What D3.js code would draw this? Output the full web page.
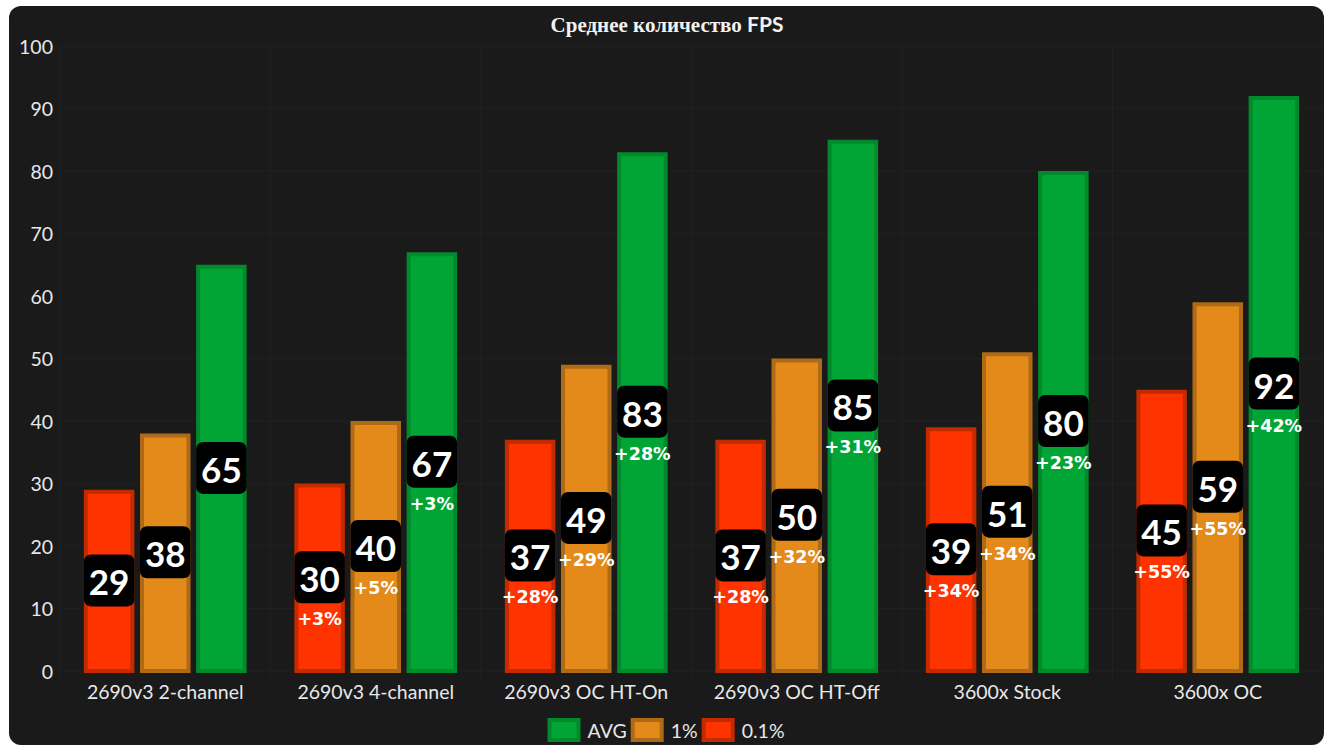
<!DOCTYPE html>
<html>
<head>
<meta charset="utf-8">
<script src="https://cdn.jsdelivr.net/npm/d3@7"></script>
<style>
  html, body { margin: 0; padding: 0; background: #ffffff; }
  svg { display: block; }
</style>
</head>
<body>
<div id="chart"></div>
<script>
// chart data
var categories = ["2690v3 2-channel", "2690v3 4-channel", "2690v3 OC HT-On", "2690v3 OC HT-Off", "3600x Stock", "3600x OC"];
var seriesNames = ["0.1%", "1%", "AVG"];
var low01 = [29, 30, 37, 37, 39, 45];
var low1 = [38, 40, 49, 50, 51, 59];
var avg = [65, 67, 83, 85, 80, 92];
var low01Gain = ["", "+3%", "+28%", "+28%", "+34%", "+55%"];
var low1Gain = ["", "+5%", "+29%", "+32%", "+34%", "+55%"];
var avgGain = ["", "+3%", "+28%", "+31%", "+23%", "+42%"];
var yTicks = [0, 10, 20, 30, 40, 50, 60, 70, 80, 90, 100];
var legendOrder = ["AVG", "1%", "0.1%"];

var fills = {"0.1%": "#ff3300", "1%": "#e38a1a", "AVG": "#00a535"};
var borders = {"0.1%": "#c22a00", "1%": "#ae6a16", "AVG": "#008a2b"};

var width = 1328, height = 755;
var margin = {top: 46, right: 5, bottom: 83, left: 60};

var svg = d3.select("#chart").append("svg")
    .attr("width", width)
    .attr("height", height);

// dark panel
svg.append("rect")
    .attr("x", 9).attr("y", 6)
    .attr("width", 1315).attr("height", 739)
    .attr("rx", 12)
    .attr("fill", "#1a1a1a");

var x = d3.scaleBand()
    .domain(categories)
    .range([margin.left, width - margin.right])
    .padding(0);

var xInner = d3.scaleBand()
    .domain(seriesNames)
    .range([x.bandwidth() * 0.1, x.bandwidth() * 0.9])
    .padding(0);

var y = d3.scaleLinear()
    .domain([0, 100])
    .range([height - margin.bottom - 1, margin.top]);

// grid
var grid = svg.append("g");
grid.selectAll("line.h")
    .data(yTicks)
    .enter().append("line")
    .attr("x1", margin.left).attr("x2", width - margin.right)
    .attr("y1", function(d) { return y(d); })
    .attr("y2", function(d) { return y(d); })
    .attr("stroke", "#202020")
    .attr("stroke-width", 1);
grid.selectAll("line.v")
    .data(categories)
    .enter().append("line")
    .attr("x1", function(d) { return x(d); })
    .attr("x2", function(d) { return x(d); })
    .attr("y1", y(100)).attr("y2", y(0) + 8)
    .attr("stroke", "#202020")
    .attr("stroke-width", 1);

// y axis labels
svg.append("g").selectAll("text")
    .data(yTicks)
    .enter().append("text")
    .attr("x", 53)
    .attr("y", function(d) { return y(d); })
    .attr("text-anchor", "end")
    .attr("dominant-baseline", "central")
    .attr("font-family", "Lato, 'Noto Sans', sans-serif")
    .attr("font-size", 19.5)
    .attr("fill", "#e8e8e8")
    .text(function(d) { return d; });

// x axis labels
svg.append("g").selectAll("text")
    .data(categories)
    .enter().append("text")
    .attr("x", function(d) { return x(d) + x.bandwidth() / 2; })
    .attr("y", 691)
    .attr("text-anchor", "middle")
    .attr("dominant-baseline", "central")
    .attr("font-family", "Lato, 'Noto Sans', sans-serif")
    .attr("font-size", 19.5)
    .attr("fill", "#e8e8e8")
    .text(function(d) { return d; });

// build rows for bars
var rows = [];
categories.forEach(function(c, i) {
    rows.push({cat: c, series: "0.1%", value: low01[i], gain: low01Gain[i]});
    rows.push({cat: c, series: "1%", value: low1[i], gain: low1Gain[i]});
    rows.push({cat: c, series: "AVG", value: avg[i], gain: avgGain[i]});
});

var bw = xInner.bandwidth() * 0.9;
function barX(d) {
    return x(d.cat) + xInner(d.series) + (xInner.bandwidth() - bw) / 2;
}

var bars = svg.append("g").selectAll("g")
    .data(rows)
    .enter().append("g");

bars.append("rect")
    .attr("x", function(d) { return barX(d) + 2; })
    .attr("y", function(d) { return y(d.value) + 2; })
    .attr("width", bw - 4)
    .attr("height", function(d) { return y(0) - y(d.value) - 2; })
    .attr("fill", function(d) { return fills[d.series]; })
    .attr("stroke", function(d) { return borders[d.series]; })
    .attr("stroke-width", 4);

// value labels in black boxes at bar centre
bars.append("rect")
    .attr("x", function(d) { return barX(d); })
    .attr("y", function(d) { return (y(d.value) + y(0)) / 2 - 26; })
    .attr("width", bw)
    .attr("height", 52)
    .attr("rx", 7)
    .attr("fill", "#000000");

bars.append("text")
    .attr("x", function(d) { return barX(d) + bw / 2; })
    .attr("y", function(d) { return (y(d.value) + y(0)) / 2 + 1; })
    .attr("text-anchor", "middle")
    .attr("dominant-baseline", "central")
    .attr("font-family", "Lato, 'Noto Sans', sans-serif")
    .attr("font-size", 35)
    .attr("font-weight", "bold")
    .attr("fill", "#ffffff")
    .text(function(d) { return d.value; });

bars.append("text")
    .attr("x", function(d) { return barX(d) + bw / 2; })
    .attr("y", function(d) { return (y(d.value) + y(0)) / 2 + 42; })
    .attr("text-anchor", "middle")
    .attr("dominant-baseline", "central")
    .attr("font-family", "'DejaVu Sans', Verdana, sans-serif")
    .attr("font-size", 17.5)
    .attr("font-weight", "bold")
    .attr("fill", "#ffffff")
    .text(function(d) { return d.gain; });

// title
var title = svg.append("text")
    .attr("x", 667)
    .attr("y", 32)
    .attr("text-anchor", "middle")
    .attr("font-size", 21)
    .attr("font-weight", "bold")
    .attr("fill", "#f2f2f2");
title.append("tspan")
    .attr("font-family", "'Liberation Serif', 'DejaVu Serif', serif")
    .text("Среднее количество ");
title.append("tspan")
    .attr("font-family", "Lato, 'Noto Sans', sans-serif")
    .text("FPS");

// legend
var legend = svg.append("g");
var lx = 0;
legendOrder.forEach(function(name) {
    var item = legend.append("g").attr("transform", "translate(" + lx + ",0)");
    item.append("rect")
        .attr("x", 2).attr("y", 2)
        .attr("width", 29).attr("height", 20)
        .attr("fill", fills[name])
        .attr("stroke", borders[name])
        .attr("stroke-width", 4);
    var t = item.append("text")
        .attr("x", 40)
        .attr("y", 12)
        .attr("dominant-baseline", "central")
        .attr("font-family", "Lato, 'Noto Sans', sans-serif")
        .attr("font-size", 19.5)
        .attr("fill", "#e8e8e8")
        .text(name);
    lx += 40 + t.node().getComputedTextLength() + 4;
});
lx -= 4;
legend.attr("transform", "translate(" + (666 - lx / 2) + ",718)");
</script>
</body>
</html>
